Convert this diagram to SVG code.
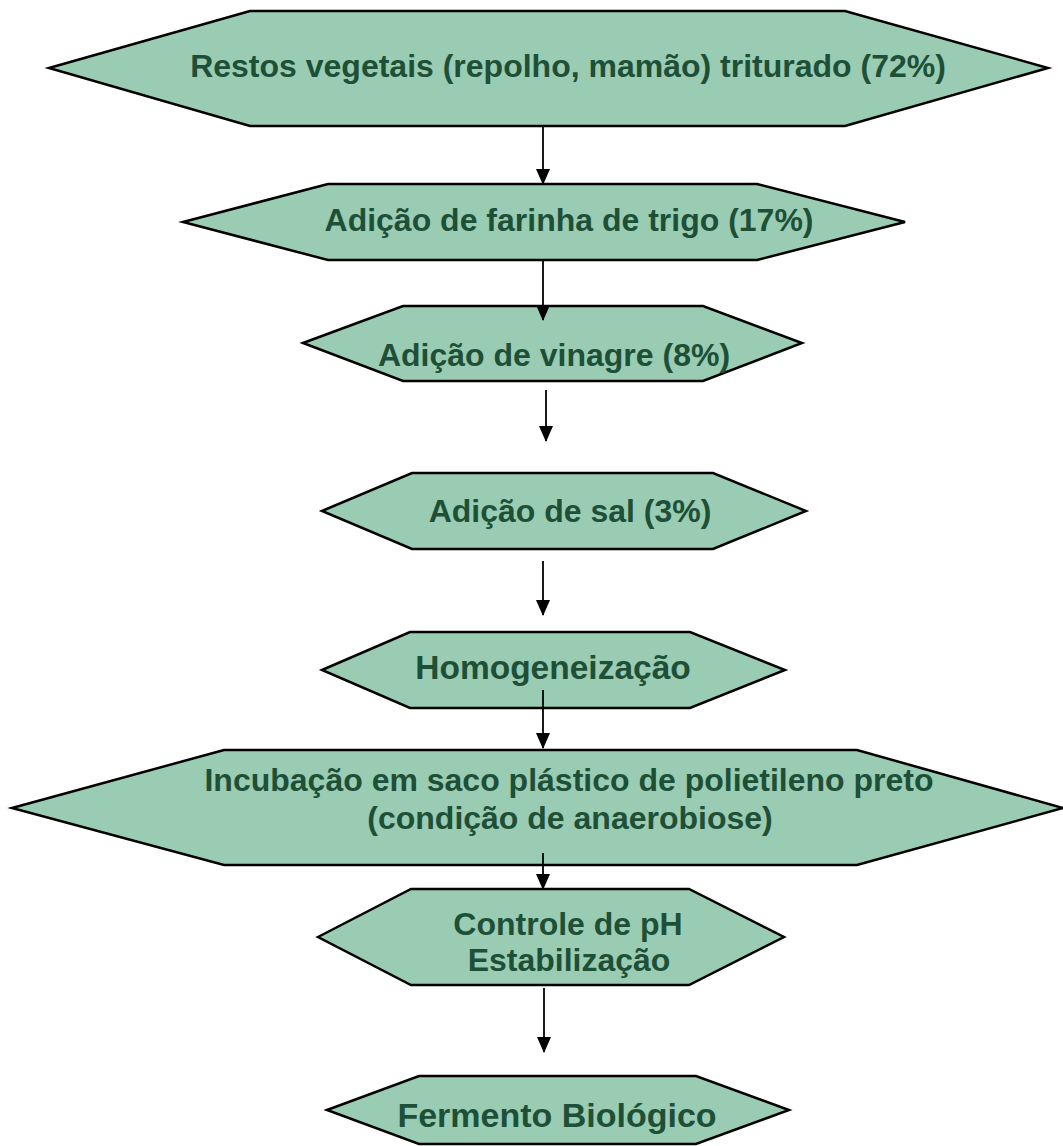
<svg xmlns="http://www.w3.org/2000/svg" width="1063" height="1146" viewBox="0 0 1063 1146">
<defs>
<style>
.hex{fill:#99CCB3;stroke:#000;stroke-width:2.5;stroke-linejoin:miter}
.t{font-family:"Liberation Sans",Arial,sans-serif;font-weight:bold;font-size:32px;fill:#1E4F37;text-anchor:middle}
.big{font-size:34px}
.mid{font-size:33.5px}
.c{stroke:#000;stroke-width:1.8;fill:none;marker-end:url(#ah)}
</style>
<marker id="ah" markerWidth="16" markerHeight="14" refX="15" refY="7" orient="auto" markerUnits="userSpaceOnUse" viewBox="0 0 16 14">
<path d="M0,0 L16,7 L0,14 Z" fill="#000"/>
</marker>
</defs>
<rect width="1063" height="1146" fill="#fff"/>
<g id="n1"><polygon class="hex" points="49,68 250,11 845,11 1048,68 845,126 250,126"/><text class="t" x="568" y="77">Restos vegetais (repolho, mamão) triturado (72%)</text></g>
<g id="n2"><polygon class="hex" points="183,222 328,184 757,184 905,222 757,260 328,260"/><text class="t" x="569" y="231">Adição de farinha de trigo (17%)</text></g>
<g id="n3"><polygon class="hex" points="303,343 403,306 703,306 802,343 703,381 403,381"/><text class="t" x="554" y="366">Adição de vinagre (8%)</text></g>
<g id="n4"><polygon class="hex" points="322,511 412,473 713,473 806,511 713,549 412,549"/><text class="t" x="570" y="522">Adição de sal (3%)</text></g>
<g id="n5"><polygon class="hex" points="322,670 410,632 690,632 785,670 690,708 410,708"/><text class="t mid" x="553" y="679">Homogeneização</text></g>
<g id="n6"><polygon class="hex" points="12,808 224,750 857,750 1063,808 857,865 224,865"/><text class="t" x="569" y="791">Incubação em saco plástico de polietileno preto</text><text class="t" x="570" y="829">(condição de anaerobiose)</text></g>
<g id="n7"><polygon class="hex" points="318,937 411,889 689,889 784,937 689,985 411,985"/><text class="t" x="568" y="935">Controle de pH</text><text class="t" x="569" y="971">Estabilização</text></g>
<g id="n8"><polygon class="hex" points="327,1110 419,1076 696,1076 789,1110 696,1144 419,1144"/><text class="t big" x="557" y="1127">Fermento Biológico</text></g>
<g id="connectors">
<line class="c" x1="543" y1="126" x2="543" y2="184"/>
<line class="c" x1="543" y1="260" x2="543" y2="320"/>
<line class="c" x1="546" y1="390" x2="546" y2="441"/>
<line class="c" x1="543" y1="561" x2="543" y2="615"/>
<line class="c" x1="543" y1="690" x2="543" y2="748"/>
<line class="c" x1="543" y1="853" x2="543" y2="889"/>
<line class="c" x1="544" y1="988" x2="544" y2="1052"/>
</g>
</svg>
